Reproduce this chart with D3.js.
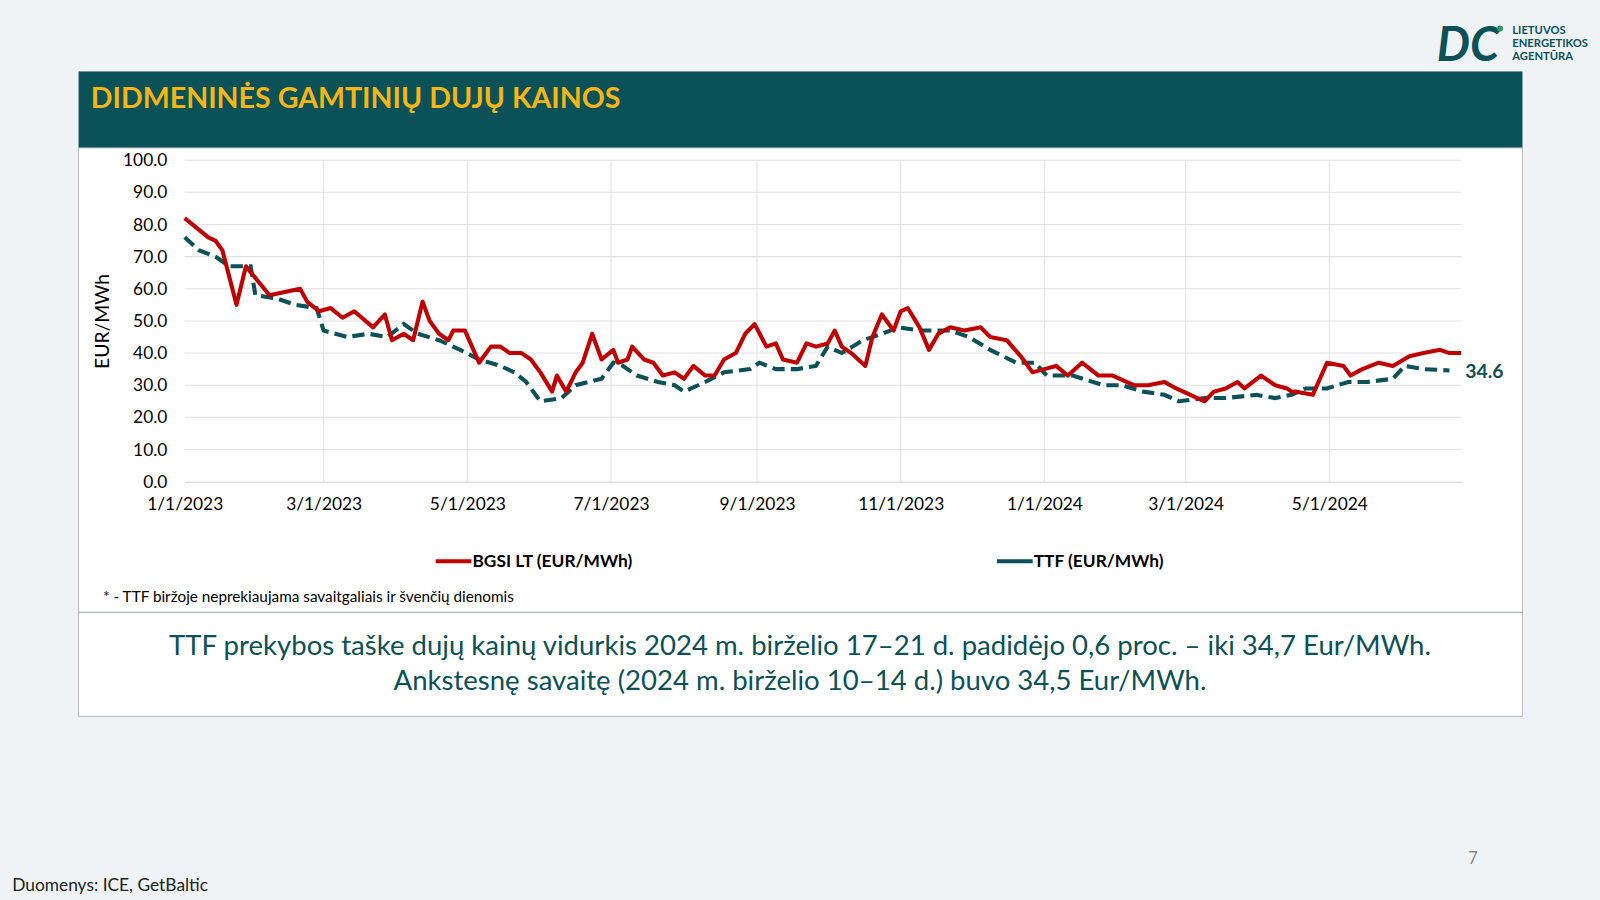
<!DOCTYPE html>
<html><head><meta charset="utf-8">
<script src="https://cdn.jsdelivr.net/npm/d3@7"></script>
<style>body{margin:0;background:#eff3f6;font-family:Lato,"Open Sans",sans-serif;}</style>
</head><body>
<script>
// days since 2023-01-01 and price
const bgsiDays = [0,10,13,16,22,26,36,49,52,57,62,67,72,80,85,88,93,97,101,104,108,112,114,119,125,130,134,138,143,147,151,156,158,162,166,169,173,177,182,184,188,190,195,199,203,208,212,216,221,225,229,234,238,242,247,251,254,260,264,268,273,276,279,283,289,292,296,301,304,307,312,316,320,325,331,338,342,349,355,360,365,370,375,381,388,394,403,409,416,421,427,433,437,442,447,450,457,463,468,470,472,479,485,492,495,500,507,513,520,526,533,537,542];
const bgsiVals = [82,76,75,72,55,67,58,60,56,53,54,51,53,48,52,44,46,44,56,50,46,44,47,47,37,42,42,40,40,38,34,28,33,28,34,37,46,38,41,37,38,42,38,37,33,34,32,36,33,33,38,40,46,49,42,43,38,37,43,42,43,47,42,40,36,45,52,47,53,54,48,41,46,48,47,48,45,44,39,34,35,36,33,37,33,33,30,30,31,29,27,25,28,29,31,29,33,30,29,28,28,27,37,36,33,35,37,36,39,40,41,40,40,38,42];
const ttfDays = [0,6,13,19,28,30,39,47,56,59,69,78,86,93,99,108,117,125,134,140,145,151,160,166,177,182,186,192,201,208,212,221,229,240,244,251,260,268,273,279,288,296,303,312,325,333,342,353,361,366,377,390,398,407,416,422,433,442,455,463,470,476,485,494,502,513,518,526,537];
const ttfVals = [76,72,70,67,67,58,57,55,54,47,45,46,45,49,46,44,41,38,36,34,31,25,26,30,32,37,36,33,31,30,28,31,34,35,37,35,35,36,42,40,44,46,48,47,47,45,41,37,37,33,33,30,30,28,27,25,26,26,27,26,27,29,29,31,31,32,36,35,34.6];
const yTicks = [0,10,20,30,40,50,60,70,80,90,100];
const xTickLabels = ["1/1/2023","3/1/2023","5/1/2023","7/1/2023","9/1/2023","11/1/2023","1/1/2024","3/1/2024","5/1/2024"];

const W = 1600, H = 900;
const root = d3.select('body').append('svg').attr('width', W).attr('height', H);
const svg = root.append('g').attr('transform', `scale(${1600 / 1568})`);
const teal = '#0b5157', red = '#c00000';

// header + panel
svg.append('rect').attr('x', 77).attr('y', 70).attr('width', 1415).attr('height', 75).attr('fill', '#0a5258');
svg.append('text').attr('x', 89).attr('y', 106).attr('fill', '#f5b417').attr('font-size', 28).attr('font-weight', 'bold')
    .text('DIDMENINĖS GAMTINIŲ DUJŲ KAINOS');
svg.append('rect').attr('x', 77).attr('y', 145).attr('width', 1415).attr('height', 557)
    .attr('fill', '#fff').attr('stroke', '#b8bcc0');
svg.append('line').attr('x1', 77).attr('x2', 1492).attr('y1', 600).attr('y2', 600).attr('stroke', '#9aa0a4');

const parse = d3.timeParse('%m/%d/%Y');
const base = new Date(2023, 0, 1);
const x = d3.scaleTime().domain([base, d3.timeDay.offset(base, 542)]).range([181, 1432]);
const y = d3.scaleLinear().domain([0, 100]).range([472, 157]);
const tickDates = xTickLabels.map(parse);

// grid
svg.append('g').selectAll('line').data(yTicks.slice(1)).join('line')
    .attr('x1', 181).attr('x2', 1432).attr('y1', d => y(d)).attr('y2', d => y(d)).attr('stroke', '#e1e1e1');
svg.append('g').selectAll('line').data(tickDates.slice(1)).join('line')
    .attr('x1', d => x(d)).attr('x2', d => x(d)).attr('y1', 157).attr('y2', 472).attr('stroke', '#e1e1e1');

const yAxis = svg.append('g').attr('transform', 'translate(181,0)')
    .call(d3.axisLeft(y).tickValues(yTicks).tickFormat(d3.format('.1f')).tickSize(0).tickPadding(17));
yAxis.select('.domain').remove();
yAxis.selectAll('text').attr('font-size', 17).attr('fill', '#000').attr('font-family', 'Lato');
const xAxis = svg.append('g').attr('transform', 'translate(0,472)')
    .call(d3.axisBottom(x).tickValues(tickDates).tickFormat((d, i) => xTickLabels[i]).tickSize(0).tickPadding(16));
xAxis.select('.domain').attr('stroke', '#d0d0d0');
xAxis.selectAll('text').attr('font-size', 17).attr('fill', '#000').attr('font-family', 'Lato');
svg.append('text').attr('transform', 'translate(107,315) rotate(-90)').attr('text-anchor', 'middle')
    .attr('font-size', 19).text('EUR/MWh');

const line = d3.line().x(d => x(d3.timeDay.offset(base, d[0]))).y(d => y(d[1])).curve(d3.curveLinear);
svg.append('path').datum(ttfDays.map((d, i) => [d, ttfVals[i]])).attr('d', line)
    .attr('fill', 'none').attr('stroke', teal).attr('stroke-width', 4).attr('stroke-dasharray', '12,6');
svg.append('path').datum(bgsiDays.map((d, i) => [d, bgsiVals[i]])).attr('d', line)
    .attr('fill', 'none').attr('stroke', red).attr('stroke-width', 4).attr('stroke-linejoin', 'round');
svg.append('text').attr('x', 1436).attr('y', y(ttfVals[ttfVals.length - 1]) + 7).attr('fill', teal)
    .attr('font-size', 19).attr('font-weight', 'bold').text('34.6');

// legend
[[427, red, 'BGSI LT (EUR/MWh)'], [977, teal, 'TTF (EUR/MWh)']].forEach(([lx, c, t]) => {
    svg.append('line').attr('x1', lx).attr('x2', lx + 35).attr('y1', 550).attr('y2', 550).attr('stroke', c).attr('stroke-width', 4);
    svg.append('text').attr('x', lx + 36).attr('y', 556).attr('font-size', 17).attr('font-weight', 'bold').text(t);
});
svg.append('text').attr('x', 101).attr('y', 590).attr('font-size', 15).text('* - TTF biržoje neprekiaujama savaitgaliais ir švenčių dienomis');

svg.append('text').attr('x', 784).attr('y', 642).attr('text-anchor', 'middle').attr('fill', teal).attr('font-size', 27)
    .text('TTF prekybos taške dujų kainų vidurkis 2024 m. birželio 17–21 d. padidėjo 0,6 proc. – iki 34,7 Eur/MWh.');
svg.append('text').attr('x', 784).attr('y', 676).attr('text-anchor', 'middle').attr('fill', teal).attr('font-size', 27)
    .text('Ankstesnę savaitę (2024 m. birželio 10–14 d.) buvo 34,5 Eur/MWh.');

// logo + footer
svg.append('text').attr('x', 1408).attr('y', 60).attr('fill', '#0a5258').attr('font-size', 46).attr('font-weight', 'bold')
    .attr('font-style', 'italic').text('DC');
svg.append('circle').attr('cx', 1470).attr('cy', 28).attr('r', 3).attr('fill', '#2e9a5a');
['LIETUVOS', 'ENERGETIKOS', 'AGENTŪRA'].forEach((t, i) => svg.append('text').attr('x', 1482).attr('y', 33 + i * 13)
    .attr('fill', '#0a5258').attr('font-size', 11).attr('font-weight', 'bold').text(t));
svg.append('text').attr('x', 1439).attr('y', 847).attr('fill', '#888').attr('font-size', 16).text('7');
svg.append('text').attr('x', 12).attr('y', 873).attr('font-size', 17).attr('fill', '#222').text('Duomenys: ICE, GetBaltic');
</script>
</body></html>
